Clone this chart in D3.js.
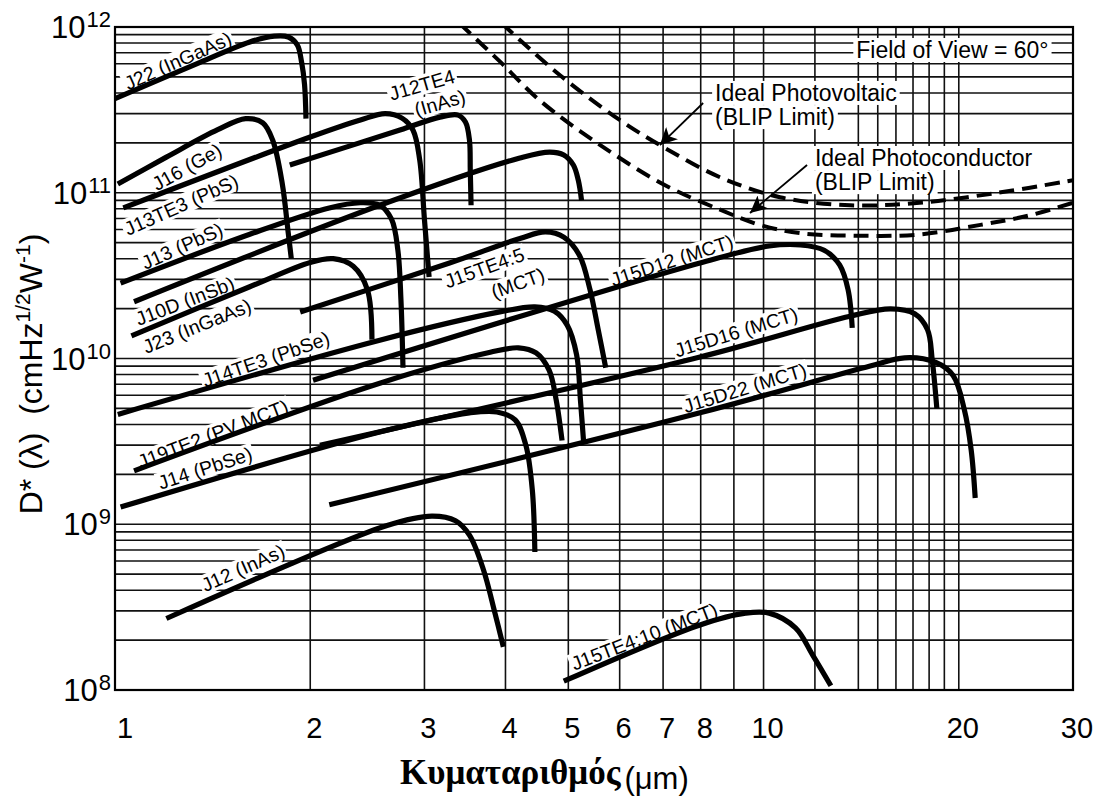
<!DOCTYPE html>
<html>
<head>
<meta charset="utf-8">
<script src="https://cdn.jsdelivr.net/npm/d3@7"></script>
<style>
body { margin: 0; background: #fff; }
svg text { font-family: "Liberation Sans", Arial, sans-serif; fill: #000; }
</style>
</head>
<body>
<svg id="chart" width="1099" height="796"></svg>
<script>
// wavelength (um), D* (cm Hz^1/2 W^-1)
const J22 = [[1.0,3.7e11],[1.35,6.1e11],[1.61,8.1e11],[1.76,8.8e11],[1.85,8.7e11],[1.91,7.8e11],[1.94,6.1e11],[1.96,4.5e11],[1.97,2.8e11]];
const J16 = [[1.01,1.13e11],[1.2,1.64e11],[1.44,2.4e11],[1.59,2.8e11],[1.69,2.64e11],[1.75,2.08e11],[1.81,1.15e11],[1.85,5.7e10],[1.87,4.0e10]];
const J13TE3 = [[1.03,8.1e10],[2.0,2.17e11],[2.39,2.75e11],[2.61,3.0e11],[2.77,2.82e11],[2.88,2.39e11],[2.95,1.58e11],[3.0,6.9e10],[3.05,3.1e10]];
const J12TE4 = [[1.86,1.47e11],[2.75,2.39e11],[3.17,2.86e11],[3.38,2.94e11],[3.47,2.67e11],[3.52,2.08e11],[3.53,1.37e11],[3.54,8.4e10]];
const J13 = [[1.02,2.85e10],[1.61,5.6e10],[2.14,8.1e10],[2.39,8.7e10],[2.56,8.4e10],[2.67,6.9e10],[2.73,4.5e10],[2.76,2.25e10],[2.78,8.8e9]];
const J10D = [[1.07,2.2e10],[2.56,8.4e10],[4.21,1.62e11],[4.68,1.76e11],[4.92,1.69e11],[5.09,1.47e11],[5.18,1.19e11],[5.24,9.0e10]];
const J23 = [[1.06,1.37e10],[1.61,2.7e10],[2.0,3.8e10],[2.17,4.0e10],[2.33,3.6e10],[2.45,2.6e10],[2.49,1.3e10]];
const J14TE3 = [[1.01,4.6e9],[2.56,1.29e10],[3.92,1.91e10],[4.44,2.05e10],[4.76,1.93e10],[4.98,1.59e10],[5.15,1.05e10],[5.22,5.6e9],[5.28,3.1e9]];
const J19TE2 = [[1.07,2.1e9],[2.56,7.1e9],[3.79,1.09e10],[4.19,1.16e10],[4.46,1.08e10],[4.67,8.5e9],[4.79,5.6e9],[4.89,3.2e9]];
const J14 = [[1.02,1.27e9],[2.56,3.6e9],[3.52,4.7e9],[3.88,4.76e9],[4.14,4.26e9],[4.30,3.0e9],[4.40,1.61e9],[4.44,6.8e8]];
const J15TE4_5 = [[1.93,1.91e10],[3.28,3.77e10],[4.21,5.3e10],[4.61,5.8e10],[4.92,5.4e10],[5.20,4.2e10],[5.40,2.6e10],[5.56,1.49e10],[5.71,8.8e9]];
const J15D12 = [[2.02,7.4e9],[7.98,3.77e10],[10.2,4.77e10],[11.4,4.84e10],[12.4,4.5e10],[13.1,3.67e10],[13.5,2.6e10],[13.7,1.53e10]];
const J15D16 = [[2.07,3.0e9],[7.98,1.02e10],[13.6,1.8e10],[15.7,1.99e10],[17.1,1.86e10],[17.9,1.49e10],[18.2,9.8e9],[18.5,5.0e9]];
const J15D22 = [[2.14,1.31e9],[7.98,4.7e9],[14.6,9.0e9],[16.5,1.01e10],[18.4,9.5e9],[19.6,7.9e9],[20.4,4.9e9],[20.9,2.8e9],[21.2,1.44e9]];
const J12 = [[1.2,2.7e8],[2.62,9.8e8],[3.08,1.12e9],[3.35,1.05e9],[3.52,8.6e8],[3.70,5.3e8],[3.85,2.95e8],[3.97,1.82e8]];
const J15TE4_10 = [[4.92,1.13e8],[7.98,2.47e8],[9.38,2.91e8],[10.2,2.91e8],[11.2,2.37e8],[11.9,1.63e8],[12.7,1.06e8]];

// ideal BLIP limits (dashed)
const blipPV = [[3.95,1.05e12],[4.86,5.1e11],[6.0,2.75e11],[7.05,1.86e11],[8.57,1.24e11],[10.6,9.4e10],[13.6,8.4e10],[17.4,8.7e10],[23,1.0e11],[30,1.19e11]];
const blipPC = [[3.4,1.05e12],[3.92,6.2e11],[4.52,3.6e11],[5.6,1.94e11],[7.05,1.11e11],[8.57,7.9e10],[9.87,6.4e10],[11.4,5.7e10],[14.1,5.5e10],[17.4,5.6e10],[21.6,6.4e10],[25.7,7.3e10],[30,8.7e10]];

// axes
const xTicks = [1, 2, 3, 4, 5, 6, 7, 8, 10, 20, 30];
const xGrid = [2, 3, 4, 5, 6, 7, 8, 9, 10, 12, 14, 15, 16, 17, 18, 19, 20];
const yDecades = [8, 9, 10, 11, 12];

// curve labels: text, wavelength, D*, angle
const curveLabels = [
    ['J22 (InGaAs)', 1.25, 6.25e11, -24],
    ['J16 (Ge)', 1.291, 1.43e11, -29],
    ['J13TE3 (PbS)', 1.265, 8.45e10, -24],
    ['J13 (PbS)', 1.269, 4.77e10, -24],
    ['J10D (InSb)', 1.282, 2.22e10, -21],
    ['J23 (InGaAs)', 1.338, 1.57e10, -22],
    ['J12TE4', 2.974, 4.47e11, -16],
    ['(InAs)', 3.17, 3.48e11, -16],
    ['J15TE4:5', 3.71, 3.52e10, -20],
    ['(MCT)', 4.18, 2.85e10, -20],
    ['J15D12 (MCT)', 7.22, 3.9e10, -18],
    ['J14TE3 (PbSe)', 1.709, 9.9e9, -19],
    ['J19TE2 (PV MCT)', 1.416, 3.5e9, -21],
    ['J14 (PbSe)', 1.377, 2.18e9, -18],
    ['J15D16 (MCT)', 9.07, 1.44e10, -17],
    ['J15D22 (MCT)', 9.36, 6.64e9, -17],
    ['J12 (InAs)', 1.575, 5.45e8, -24],
    ['J15TE4:10 (MCT)', 6.55, 2.1e8, -21]
];

const svg = d3.select('#chart');
const plot = {left: 115, right: 1073, top: 27, bottom: 690};

const x = d3.scaleLog().domain([1, 30]).range([plot.left, plot.right]);
const y = d3.scaleLog().domain([1e8, 1e12]).range([plot.bottom, plot.top]);

const defs = svg.append('defs');
defs.append('clipPath').attr('id', 'clip')
    .append('rect')
    .attr('x', plot.left).attr('y', plot.top)
    .attr('width', plot.right - plot.left).attr('height', plot.bottom - plot.top);

defs.append('marker')
    .attr('id', 'arrow')
    .attr('viewBox', '0 0 10 10')
    .attr('refX', 10).attr('refY', 5)
    .attr('markerWidth', 24).attr('markerHeight', 17)
    .attr('markerUnits', 'userSpaceOnUse')
    .attr('orient', 'auto')
    .append('path')
    .attr('d', 'M0,0L10,5L0,10L2.5,5Z');

// grid
const yGrid = [];
yDecades.slice(0, -1).forEach(e => {
    for (let m = 2; m <= 9; m++) yGrid.push(m * Math.pow(10, e));
});

const grid = svg.append('g').attr('stroke', '#111').attr('stroke-width', 1.6);
grid.selectAll('.hg')
    .data(yGrid)
    .join('line')
    .attr('x1', plot.left).attr('x2', plot.right)
    .attr('y1', d => y(d)).attr('y2', d => y(d));
grid.selectAll('.dg')
    .data(yDecades)
    .join('line')
    .attr('x1', plot.left).attr('x2', plot.right)
    .attr('y1', d => y(Math.pow(10, d))).attr('y2', d => y(Math.pow(10, d)));
grid.selectAll('.vg')
    .data(xGrid)
    .join('line')
    .attr('x1', d => x(d)).attr('x2', d => x(d))
    .attr('y1', plot.top).attr('y2', plot.bottom);

// tick labels
svg.selectAll('.xt')
    .data(xTicks)
    .join('text')
    .attr('x', d => x(d) + (d === 1 ? 10 : 4))
    .attr('y', 738)
    .attr('text-anchor', 'middle')
    .style('font-size', '29px')
    .text(d => d);

const yt = svg.selectAll('.yt')
    .data(yDecades)
    .join('text')
    .attr('x', 111)
    .attr('y', d => y(Math.pow(10, d)) + 11)
    .attr('text-anchor', 'end')
    .style('font-size', '31px');
yt.append('tspan').text('10');
yt.append('tspan').attr('dx', 1).attr('dy', -11).style('font-size', '22px').text(d => d);

// white box behind a text, knocks out the grid like in the original
function boxed(t, pad) {
    const b = t.node().getBBox();
    d3.select(t.node().parentNode).insert('rect', () => t.node())
        .attr('x', b.x - pad).attr('y', b.y + 1)
        .attr('width', b.width + 2 * pad).attr('height', b.height - 2)
        .attr('fill', '#fff');
}

// curve labels
svg.append('g')
    .selectAll('g')
    .data(curveLabels)
    .join('g')
    .attr('transform', d => 'translate(' + x(d[1]) + ',' + y(d[2]) + ') rotate(' + d[3] + ')')
    .each(function(d) {
        const t = d3.select(this).append('text')
            .attr('text-anchor', 'middle')
            .attr('dy', '0.35em')
            .style('font-size', '19.5px')
            .text(d[0]);
        boxed(t, 2);
    });

// frame drawn after the label boxes so it stays whole
svg.append('rect')
    .attr('x', plot.left).attr('y', plot.top)
    .attr('width', plot.right - plot.left).attr('height', plot.bottom - plot.top)
    .attr('fill', 'none').attr('stroke', '#000').attr('stroke-width', 2.2);

// annotations
function note(lines, lam, d, size) {
    const g = svg.append('g');
    lines.forEach((s, i) => {
        const t = g.append('text')
            .attr('x', x(lam)).attr('y', y(d) + i * size * 1.05)
            .style('font-size', size + 'px')
            .text(s);
        boxed(t, 3);
    });
}
note(['Field of View = 60°'], 13.9, 6.5e11, 23);
note(['Ideal Photovoltaic', '(BLIP Limit)'], 8.42, 3.58e11, 23);
note(['Ideal Photoconductor', '(BLIP Limit)'], 12.0, 1.45e11, 23);

// detector curves
const line = d3.line()
    .x(d => x(d[0]))
    .y(d => y(d[1]))
    .curve(d3.curveCatmullRom.alpha(0.5));

const curves = [J22, J16, J13TE3, J12TE4, J13, J10D, J23, J14TE3, J19TE2, J14,
    J15TE4_5, J15D12, J15D16, J15D22, J12, J15TE4_10];

svg.append('g')
    .selectAll('path')
    .data(curves)
    .join('path')
    .attr('d', line)
    .attr('fill', 'none')
    .attr('stroke', '#000')
    .attr('stroke-width', 5.2)
    .attr('stroke-linecap', 'butt');

svg.append('g')
    .attr('clip-path', 'url(#clip)')
    .selectAll('path')
    .data([blipPV, blipPC])
    .join('path')
    .attr('d', line)
    .attr('fill', 'none')
    .attr('stroke', '#000')
    .attr('stroke-width', 4)
    .attr('stroke-dasharray', '15,8');

// arrows from the notes to the BLIP curves
const arrows = [[[8.07, 3.48e11], [6.92, 1.94e11]], [[11.67, 1.47e11], [9.53, 7.55e10]]];
svg.selectAll('.arr')
    .data(arrows)
    .join('line')
    .attr('x1', d => x(d[0][0])).attr('y1', d => y(d[0][1]))
    .attr('x2', d => x(d[1][0])).attr('y2', d => y(d[1][1]))
    .attr('stroke', '#000')
    .attr('stroke-width', 1.8)
    .attr('marker-end', 'url(#arrow)');

// axis titles
const yl = svg.append('text')
    .attr('transform', 'translate(42,374) rotate(-90)')
    .attr('text-anchor', 'middle')
    .style('font-size', '32px')
    .style('white-space', 'pre');
yl.append('tspan').text('D* (λ)  (cmHz');
yl.append('tspan').attr('dy', -12).style('font-size', '21px').text('1/2');
yl.append('tspan').attr('dy', 12).text('W');
yl.append('tspan').attr('dy', -12).style('font-size', '21px').text('-1');
yl.append('tspan').attr('dy', 12).text(')');

const xl = svg.append('text')
    .attr('x', 400).attr('y', 784);
xl.append('tspan')
    .style('font-family', '"Liberation Serif", "Times New Roman", serif')
    .style('font-weight', 'bold')
    .style('font-size', '35px')
    .text('Κυματαριθμός');
xl.append('tspan')
    .attr('dx', 4).attr('dy', 5)
    .style('font-size', '31px')
    .text('(μm)');
</script>
</body>
</html>
